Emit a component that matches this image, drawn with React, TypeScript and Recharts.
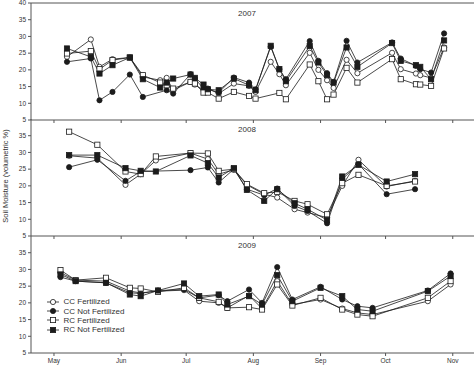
import React from "react"
import { LineChart, Line, XAxis, YAxis, ReferenceLine } from "recharts"

// sample dates as day of year, one list per season
const DAYS_2007 = [127, 138, 142, 148, 156, 162, 170, 173, 176, 184, 186, 190, 192, 197, 204, 211, 214, 221, 225, 228, 239, 243, 247, 250, 256, 261, 277, 281, 288, 290, 295, 301]
const CCF_2007 = [23.9, 29.1, 20.9, 23.2, 23.7, 17.9, 16.9, 17.6, 13.9, 16.4, 15.6, 13.9, 14.4, 12.9, 15.9, 15.2, 13.4, 22.4, 18.7, 15.4, 25.1, 20.0, 16.9, 14.6, 23.0, 19.0, 25.1, 20.2, 18.9, 18.4, 17.6, 26.7]
const CCNF_2007 = [22.4, 23.4, 10.9, 13.4, 18.6, 11.9, null, 13.9, 12.9, 18.7, 17.4, 14.4, 14.2, 13.2, 17.7, 16.2, 14.2, 26.9, 20.2, 17.2, 28.6, 22.7, 19.0, 16.4, 28.7, 22.2, 28.2, 23.4, 21.2, 20.2, 19.2, 30.9]
const RCF_2007 = [24.9, 25.6, 20.2, 22.9, 23.7, 18.4, 16.2, 15.4, 14.4, 16.4, 15.9, 13.2, 13.2, 11.4, 13.4, 12.2, 11.4, null, 13.1, 11.2, 21.6, 16.6, 11.2, 12.6, 20.6, 16.2, 23.2, 17.2, 15.7, 15.6, 15.2, 26.4]
const RCNF_2007 = [26.4, 23.9, 18.9, 21.4, 23.7, 17.2, 14.7, 16.2, 17.4, 18.6, 17.6, 15.6, 14.2, 13.9, 17.4, 15.4, 13.9, 27.2, 20.2, 16.6, 27.1, 22.2, 18.4, 16.2, 26.7, 20.9, 28.0, 22.7, 21.4, 20.9, 17.2, 28.8]

const DAYS_2008 = [128, 141, 154, 161, 168, 184, 192, 197, 204, 210, 218, 224, 232, 238, 247, 254, 261.5, 274.5, 287.6]
const CCF_2008 = [29.0, 28.3, 20.3, 23.5, 27.6, 29.8, 28.0, 23.5, 24.8, 20.3, 17.5, 16.5, 13.0, 12.0, 10.5, 20.0, 27.8, 19.8, 21.5]
const CCNF_2008 = [25.6, 27.8, 21.5, 24.3, null, 24.7, 25.5, 21.0, 25.0, 19.0, 17.2, 19.2, 14.0, 12.5, 8.8, 22.0, 26.5, 17.5, 19.0]
const RCF_2008 = [36.2, 32.3, 24.3, 23.5, 28.8, 29.8, 29.7, 24.5, 25.0, 20.5, 17.8, 18.2, 15.5, 14.5, 11.5, 20.8, 23.3, 20.0, 21.3]
const RCNF_2008 = [29.2, 29.2, 25.3, 24.5, 24.3, 29.1, 26.8, 22.5, 25.3, 18.8, 15.5, 19.0, 14.8, 13.0, 9.8, 22.8, 26.3, 21.3, 23.5]

const DAYS_2009 = [124, 131, 145, 156, 161, 169, 181, 188, 197, 201, 211, 217, 224, 231, 244, 254, 261, 268, 293.5, 304]
const CCF_2009 = [29.0, 26.8, 26.5, 23.5, 23.0, 23.5, 23.8, 20.5, 20.0, 18.5, 22.2, 18.3, 26.5, 19.5, 21.0, 18.3, 17.0, 16.5, 20.5, 25.5]
const CCNF_2009 = [27.7, 26.5, 26.0, 23.0, 22.8, 23.7, 24.0, 21.5, 22.3, 20.5, 24.0, 20.0, 30.7, 21.0, 24.8, 21.0, 19.0, 18.5, 23.7, 28.8]
const RCF_2009 = [29.8, 26.8, 27.5, 24.5, 24.3, 23.3, 24.5, 21.5, 20.3, 18.5, 18.7, 18.0, 25.5, 19.2, 21.5, 18.0, 16.5, 16.0, 21.5, 26.5]
const RCNF_2009 = [28.5, 26.5, 26.0, 22.5, 22.0, 23.7, 25.8, 22.0, 22.5, 19.5, 22.0, 19.5, 28.3, 20.5, 24.5, 22.0, 18.0, 17.5, 23.5, 28.0]

const MONTHS = ["May", "Jun", "Jul", "Aug", "Sep", "Oct", "Nov"]
const MONTH_DAYS = [121, 152, 182, 213, 244, 274, 305]
const Y_TICKS_TOP = [5, 10, 15, 20, 25, 30, 35, 40]
const Y_TICKS = [5, 10, 15, 20, 25, 30, 35]

const SERIES = [
  { key: "ccf", name: "CC Fertilized", shape: "circle", filled: false },
  { key: "ccnf", name: "CC Not Fertilized", shape: "circle", filled: true },
  { key: "rcf", name: "RC Fertilized", shape: "square", filled: false },
  { key: "rcnf", name: "RC Not Fertilized", shape: "square", filled: true },
]

const INK = "#1c1c1c"
const AXIS = "#555"
const FONT = "'Liberation Sans', Arial, sans-serif"

function rows(days: number[], ccf: (number | null)[], ccnf: (number | null)[], rcf: (number | null)[], rcnf: (number | null)[]) {
  return days.map((day, i) => ({ day, ccf: ccf[i], ccnf: ccnf[i], rcf: rcf[i], rcnf: rcnf[i] }))
}

const DATA_2007 = rows(DAYS_2007, CCF_2007, CCNF_2007, RCF_2007, RCNF_2007)
const DATA_2008 = rows(DAYS_2008, CCF_2008, CCNF_2008, RCF_2008, RCNF_2008)
const DATA_2009 = rows(DAYS_2009, CCF_2009, CCNF_2009, RCF_2009, RCNF_2009)

function Marker({ cx, cy, shape, filled }: { cx: number; cy: number; shape: string; filled: boolean }) {
  const fill = filled ? INK : "#fff"
  if (shape === "square") {
    return <rect x={cx - 2.6} y={cy - 2.6} width={5.2} height={5.2} fill={fill} stroke={INK} strokeWidth={0.8} />
  }
  return <circle cx={cx} cy={cy} r={2.6} fill={fill} stroke={INK} strokeWidth={0.8} />
}

function makeDot(s: (typeof SERIES)[number]) {
  return (p: any) => {
    if (p.value == null || p.cx == null || p.cy == null) return <g key={`${s.key}-${p.index}`} />
    return (
      <g key={`${s.key}-${p.index}`}>
        <Marker cx={p.cx} cy={p.cy} shape={s.shape} filled={s.filled} />
      </g>
    )
  }
}

function LegendBox() {
  return (
    <div style={{ position: "absolute", left: 46.5, top: 297, fontFamily: FONT, fontSize: 8, color: "#333" }}>
      {SERIES.map((s) => (
        <div key={s.key} style={{ display: "flex", alignItems: "center", height: 9.4 }}>
          <svg width={12} height={8} style={{ display: "block" }}>
            <line x1={0} y1={4} x2={12} y2={4} stroke={INK} strokeWidth={0.8} />
            <Marker cx={6} cy={4} shape={s.shape} filled={s.filled} />
          </svg>
          <span style={{ marginLeft: 5, whiteSpace: "nowrap" }}>{s.name}</span>
        </div>
      ))}
    </div>
  )
}

function Panel({
  data,
  top,
  height,
  marginTop,
  xHeight,
  yTicks,
  showMonths,
  frameTop,
}: {
  data: any[]
  top: number
  height: number
  marginTop: number
  xHeight: number
  yTicks: number[]
  showMonths: boolean
  frameTop: boolean
}) {
  const tick = { fontSize: 6.5, fill: "#333", fontFamily: FONT }
  return (
    <div style={{ position: "absolute", left: 0, top }}>
      <LineChart width={474} height={height} data={data} margin={{ top: marginTop, right: 0, bottom: 0, left: 0 }}>
        <XAxis
          type="number"
          dataKey="day"
          domain={[110.4, 314.8]}
          allowDataOverflow
          ticks={MONTH_DAYS}
          tickFormatter={(v: number) => (showMonths ? MONTHS[MONTH_DAYS.indexOf(v)] : "")}
          tick={tick}
          tickSize={3}
          tickMargin={2}
          height={xHeight}
          stroke={AXIS}
          interval={0}
        />
        <YAxis
          type="number"
          domain={[5, 40]}
          allowDataOverflow
          ticks={yTicks}
          tick={tick}
          tickSize={3}
          tickMargin={2}
          width={31}
          stroke={AXIS}
          interval={0}
        />
        {frameTop && <ReferenceLine y={40} stroke={AXIS} strokeWidth={1} />}
        {SERIES.map((s) => (
          <Line
            key={s.key}
            dataKey={s.key}
            name={s.name}
            stroke={INK}
            strokeWidth={0.8}
            connectNulls
            dot={makeDot(s)}
            activeDot={false}
            isAnimationActive={false}
          />
        ))}
      </LineChart>
    </div>
  )
}

const titleStyle: React.CSSProperties = {
  position: "absolute",
  left: 222,
  width: 50,
  textAlign: "center",
  fontFamily: FONT,
  fontSize: 8,
  lineHeight: "10px",
  color: "#333",
}

export default function App() {
  return (
    <div style={{ position: "absolute", left: 0, top: 0, width: 474, height: 367, background: "#fff", overflow: "hidden" }}>
      <Panel data={DATA_2007} top={0} height={130} marginTop={3} xHeight={10} yTicks={Y_TICKS_TOP} showMonths={false} frameTop />
      <Panel data={DATA_2008} top={119} height={127} marginTop={0} xHeight={10} yTicks={Y_TICKS} showMonths={false} frameTop={false} />
      <Panel data={DATA_2009} top={236} height={131} marginTop={0} xHeight={14} yTicks={Y_TICKS} showMonths frameTop={false} />
      <LegendBox />
      <div style={{ ...titleStyle, top: 8.5 }}>2007</div>
      <div style={{ ...titleStyle, top: 125 }}>2008</div>
      <div style={{ ...titleStyle, top: 241 }}>2009</div>
      <div
        style={{
          position: "absolute",
          left: -69,
          top: 171,
          width: 150,
          textAlign: "center",
          fontFamily: FONT,
          fontSize: 7.5,
          lineHeight: "10px",
          color: "#333",
          transform: "rotate(-90deg)",
        }}
      >
        Soil Moisture (volumetric %)
      </div>
    </div>
  )
}
